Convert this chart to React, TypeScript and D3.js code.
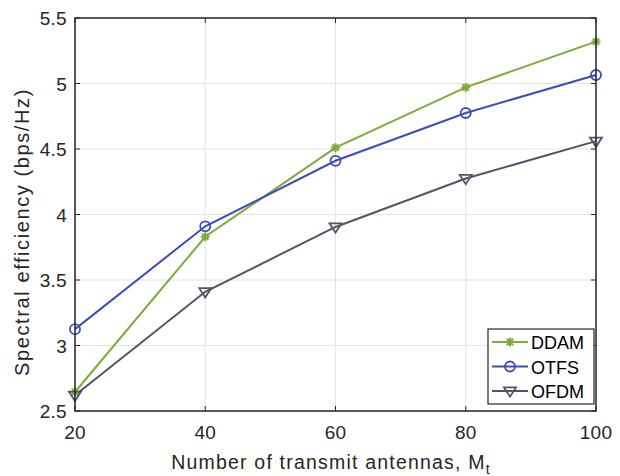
import React from "react";
import * as d3 from "d3";

const xValues = [20, 40, 60, 80, 100];
const ddam = [2.645, 3.83, 4.51, 4.97, 5.32];
const otfs = [3.125, 3.91, 4.41, 4.775, 5.065];
const ofdm = [2.62, 3.41, 3.905, 4.275, 4.56];
const xTicks = [20, 40, 60, 80, 100];
const yTicks = [2.5, 3, 3.5, 4, 4.5, 5, 5.5];
const seriesNames = ["DDAM", "OTFS", "OFDM"];
const seriesColors = ["#7eab3a", "#3a4dba", "#4f5668"];

const W = 620, H = 476;
const L = 75, R = 596, T = 18, B = 411;
const font = "Liberation Sans, Arial, Helvetica, sans-serif";

function Marker({ kind, x, y, color }: { kind: string; x: number; y: number; color: string }) {
  if (kind === "DDAM") {
    const r = 4.5;
    const angles = [0, 45, 90, 135];
    return (
      <g stroke={color} strokeWidth={2}>
        {angles.map((a) => {
          const rad = (a * Math.PI) / 180;
          return <line key={a} x1={x - r * Math.cos(rad)} y1={y - r * Math.sin(rad)} x2={x + r * Math.cos(rad)} y2={y + r * Math.sin(rad)} />;
        })}
        <circle cx={x} cy={y} r={2.5} fill={color} stroke="none" />
      </g>
    );
  }
  if (kind === "OTFS") {
    return <circle cx={x} cy={y} r={5} fill="none" stroke={color} strokeWidth={1.8} />;
  }
  const s = 6;
  return (
    <path
      d={`M${x - s},${y - s * 0.6} L${x + s},${y - s * 0.6} L${x},${y + s * 0.95} Z`}
      fill="none"
      stroke={color}
      strokeWidth={1.8}
    />
  );
}

export default function App() {
  const x = d3.scaleLinear().domain([20, 100]).range([L, R]);
  const y = d3.scaleLinear().domain([2.5, 5.5]).range([B, T]);
  const data = [ddam, otfs, ofdm];
  const line = d3
    .line<number>()
    .x((_, i) => x(xValues[i]))
    .y((d) => y(d));

  const legX = 488, legY = 329, legW = 106, legH = 75;

  return (
    <svg width={W} height={H} style={{ position: "absolute", left: 0, top: 0, background: "#fff" }} fontFamily={font}>
      <rect x={0} y={0} width={W} height={H} fill="#fff" />
      {/* grid */}
      {xTicks.map((t) => (
        <line key={"gx" + t} x1={x(t)} x2={x(t)} y1={T} y2={B} stroke="#e3e3e3" strokeWidth={1} />
      ))}
      {yTicks.map((t) => (
        <line key={"gy" + t} x1={L} x2={R} y1={y(t)} y2={y(t)} stroke="#e3e3e3" strokeWidth={1} />
      ))}
      {/* ticks */}
      {xTicks.map((t) => (
        <g key={"tx" + t}>
          <line x1={x(t)} x2={x(t)} y1={B} y2={B - 5} stroke="#262626" />
          <line x1={x(t)} x2={x(t)} y1={T} y2={T + 5} stroke="#262626" />
          <text x={x(t)} y={B + 28} textAnchor="middle" fontSize={19} letterSpacing={0.3} fill="#262626">{t}</text>
        </g>
      ))}
      {yTicks.map((t) => (
        <g key={"ty" + t}>
          <line x1={L} x2={L + 5} y1={y(t)} y2={y(t)} stroke="#262626" />
          <line x1={R} x2={R - 5} y1={y(t)} y2={y(t)} stroke="#262626" />
          <text x={L - 8} y={y(t) + 7} textAnchor="end" fontSize={19} letterSpacing={0.3} fill="#262626">{t}</text>
        </g>
      ))}
      {/* lines */}
      {data.map((d, i) => (
        <path key={"l" + i} d={line(d) || ""} fill="none" stroke={seriesColors[i]} strokeWidth={2} />
      ))}
      {data.map((d, i) =>
        d.map((v, j) => <Marker key={"m" + i + "-" + j} kind={seriesNames[i]} x={x(xValues[j])} y={y(v)} color={seriesColors[i]} />)
      )}
      {/* box */}
      <rect x={L} y={T} width={R - L} height={B - T} fill="none" stroke="#262626" strokeWidth={1.5} />
      {/* legend */}
      <rect x={legX} y={legY} width={legW} height={legH} fill="#fff" stroke="#262626" strokeWidth={1.2} />
      {seriesNames.map((n, i) => {
        const ly = legY + 13 + i * 24.5;
        return (
          <g key={"lg" + n}>
            <line x1={legX + 4} x2={legX + 40} y1={ly} y2={ly} stroke={seriesColors[i]} strokeWidth={2} />
            <Marker kind={n} x={legX + 22} y={ly} color={seriesColors[i]} />
            <text x={legX + 43} y={ly + 7} fontSize={18} fill="#000">{n}</text>
          </g>
        );
      })}
      {/* axis labels */}
      <text x={331} y={469} textAnchor="middle" fontSize={19.5} letterSpacing={1.2} fill="#262626">
        Number of transmit antennas, M<tspan fontSize={14} dy={5}>t</tspan>
      </text>
      <text transform={`translate(29,232) rotate(-90)`} textAnchor="middle" fontSize={20} letterSpacing={1.6} fill="#262626">
        Spectral efficiency (bps/Hz)
      </text>
    </svg>
  );
}
